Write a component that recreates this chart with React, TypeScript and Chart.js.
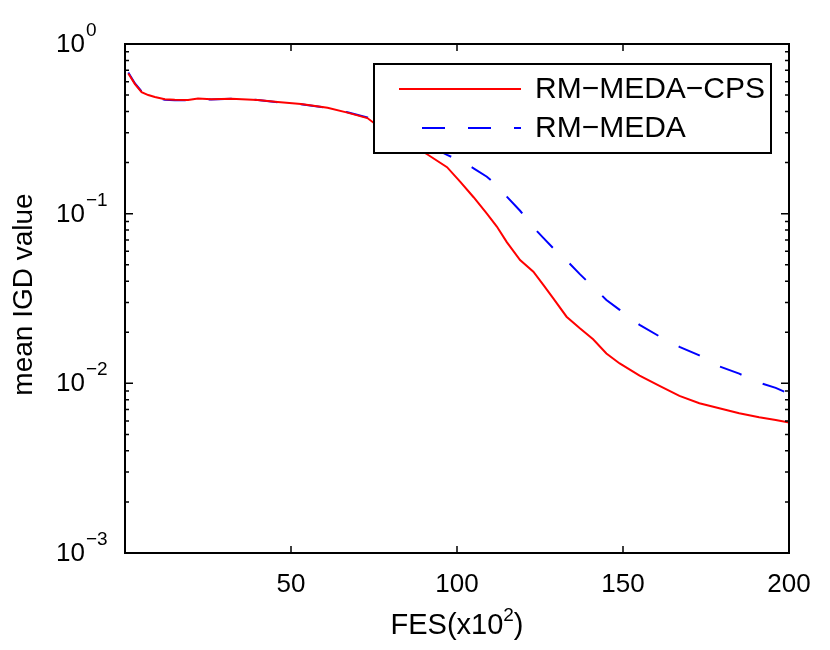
import { useEffect, useRef } from 'react';
import { Chart, registerables } from 'chart.js';

Chart.register(...registerables);

// FES (x10^2) sample points shared by both runs
const fes = [
  1, 3, 5, 7, 9, 12, 15, 19, 22, 26, 32, 40, 46, 53, 61, 67, 73, 77, 82, 87,
  91, 97, 101, 105, 109, 112, 115, 119, 123, 126, 129, 133, 137, 141, 145,
  149, 155, 161, 167, 173, 179, 185, 191, 196, 200,
];

// mean IGD, RM-MEDA-CPS (red, solid)
const igdCps = [
  0.67, 0.58, 0.52, 0.5, 0.487, 0.472, 0.469, 0.468, 0.478, 0.472, 0.476,
  0.468, 0.455, 0.443, 0.421, 0.394, 0.366, 0.32, 0.282, 0.248, 0.224, 0.188,
  0.154, 0.125, 0.1, 0.084, 0.068, 0.0533, 0.0455, 0.038, 0.0317, 0.0247,
  0.0211, 0.0182, 0.015, 0.0131, 0.0111, 0.00966, 0.00843, 0.00764, 0.00713,
  0.00667, 0.00631, 0.00608, 0.00587,
];

// mean IGD, RM-MEDA (blue, dashed)
const igdRm = [
  0.68, 0.585, 0.525, 0.5, 0.485, 0.47, 0.466, 0.466, 0.474, 0.471, 0.475,
  0.468, 0.454, 0.442, 0.42, 0.396, 0.369, 0.342, 0.307, 0.277, 0.254, 0.222,
  0.205, 0.185, 0.165, 0.147, 0.126, 0.104, 0.083, 0.072, 0.0625, 0.053,
  0.044, 0.037, 0.031, 0.0271, 0.0221, 0.0189, 0.0164, 0.0146, 0.0126, 0.0114,
  0.0101, 0.0094, 0.0087,
];

const xTicks = [50, 100, 150, 200];
const yExponents = [-3, -2, -1, 0];
const minorMantissas = [2, 3, 4, 5, 6, 7, 8, 9];

const FONT = '"Liberation Sans", Arial, Helvetica, sans-serif';
const MINUS = '\u2212';

const matlabAxes = {
  id: 'matlabAxes',
  afterDatasetsDraw(chart: Chart) {
    const { ctx, chartArea: a } = chart;
    const xs = chart.scales.x;
    const ys = chart.scales.y;
    ctx.save();

    // legend
    const lx = 374, ly = 64, lw = 397, lh = 89;
    ctx.fillStyle = '#ffffff';
    ctx.fillRect(lx, ly, lw, lh);
    ctx.strokeStyle = '#000000';
    ctx.lineWidth = 2;
    ctx.strokeRect(lx, ly, lw, lh);
    chart.data.datasets.forEach((ds: any, i: number) => {
      const yy = 89 + i * 39;
      ctx.strokeStyle = ds.borderColor;
      ctx.lineWidth = 2;
      ctx.setLineDash(ds.borderDash || []);
      ctx.lineDashOffset = ds.borderDash ? 23 : 0;
      ctx.beginPath();
      ctx.moveTo(399, yy);
      ctx.lineTo(521, yy);
      ctx.stroke();
      ctx.setLineDash([]);
      ctx.fillStyle = '#000000';
      ctx.font = `30px ${FONT}`;
      ctx.textAlign = 'left';
      ctx.textBaseline = 'middle';
      ctx.fillText(ds.label, 535, yy + 1);
    });

    // axes box
    ctx.strokeStyle = '#000000';
    ctx.lineWidth = 2;
    ctx.strokeRect(a.left, a.top, a.right - a.left, a.bottom - a.top);

    // x ticks (inward, top and bottom)
    ctx.lineWidth = 1.5;
    ctx.beginPath();
    xTicks.forEach((t) => {
      const px = xs.getPixelForValue(t);
      ctx.moveTo(px, a.bottom);
      ctx.lineTo(px, a.bottom - 7);
      ctx.moveTo(px, a.top);
      ctx.lineTo(px, a.top + 7);
    });
    // y ticks, major and minor, left and right
    yExponents.forEach((e) => {
      const py = ys.getPixelForValue(Math.pow(10, e));
      ctx.moveTo(a.left, py);
      ctx.lineTo(a.left + 8, py);
      ctx.moveTo(a.right, py);
      ctx.lineTo(a.right - 8, py);
      if (e < 0) {
        minorMantissas.forEach((m) => {
          const pm = ys.getPixelForValue(m * Math.pow(10, e));
          ctx.moveTo(a.left, pm);
          ctx.lineTo(a.left + 4, pm);
          ctx.moveTo(a.right, pm);
          ctx.lineTo(a.right - 4, pm);
        });
      }
    });
    ctx.stroke();

    ctx.fillStyle = '#000000';
    // x tick labels
    ctx.font = `26px ${FONT}`;
    ctx.textAlign = 'center';
    ctx.textBaseline = 'alphabetic';
    xTicks.forEach((t) => {
      ctx.fillText(String(t), xs.getPixelForValue(t), a.bottom + 39);
    });

    // y tick labels 10^e
    ctx.textAlign = 'left';
    yExponents.forEach((e) => {
      const py = ys.getPixelForValue(Math.pow(10, e));
      ctx.font = `26px ${FONT}`;
      ctx.fillText('10', 56, py + 8);
      const w = ctx.measureText('10').width;
      ctx.font = `19px ${FONT}`;
      ctx.fillText(e < 0 ? MINUS + String(-e) : String(e), 56 + w + 1, py - 8);
    });

    // x title FES(x10^2)
    const cx = (a.left + a.right) / 2;
    ctx.font = `29px ${FONT}`;
    const p1 = 'FES(x10';
    const w1 = ctx.measureText(p1).width;
    const w3 = ctx.measureText(')').width;
    ctx.font = `19px ${FONT}`;
    const w2 = ctx.measureText('2').width;
    let sx = cx - (w1 + w2 + w3) / 2;
    const by = a.bottom + 81;
    ctx.font = `29px ${FONT}`;
    ctx.fillText(p1, sx, by);
    sx += w1;
    ctx.font = `19px ${FONT}`;
    ctx.fillText('2', sx, by - 13);
    sx += w2;
    ctx.font = `29px ${FONT}`;
    ctx.fillText(')', sx, by);

    // y title
    ctx.translate(24, (a.top + a.bottom) / 2 - 4);
    ctx.rotate(-Math.PI / 2);
    ctx.textAlign = 'center';
    ctx.textBaseline = 'middle';
    ctx.font = `28px ${FONT}`;
    ctx.fillText('mean IGD value', 0, 0);

    ctx.restore();
  },
};

export default function App() {
  const canvasRef = useRef<HTMLCanvasElement>(null);
  const chartRef = useRef<Chart | null>(null);

  useEffect(() => {
    if (!canvasRef.current) return;
    if (chartRef.current) chartRef.current.destroy();

    chartRef.current = new Chart(canvasRef.current, {
      type: 'line',
      data: {
        datasets: [
          {
            label: 'RM' + MINUS + 'MEDA' + MINUS + 'CPS',
            data: fes.map((x, i) => ({ x, y: igdCps[i] })),
            borderColor: '#ff0000',
            borderWidth: 2,
            pointRadius: 0,
            tension: 0,
          },
          {
            label: 'RM' + MINUS + 'MEDA',
            data: fes.map((x, i) => ({ x, y: igdRm[i] })),
            borderColor: '#0000ff',
            borderWidth: 2,
            borderDash: [23, 23],
            pointRadius: 0,
            tension: 0,
          },
        ],
      },
      options: {
        animation: false,
        responsive: false,
        layout: { padding: { left: 125, right: 41, top: 44, bottom: 97 } },
        plugins: {
          legend: { display: false },
          tooltip: { enabled: false },
        },
        scales: {
          x: { type: 'linear', min: 0, max: 200, display: false },
          y: { type: 'logarithmic', min: 0.001, max: 1, display: false },
        },
      },
      plugins: [matlabAxes],
    });

    return () => {
      if (chartRef.current) {
        chartRef.current.destroy();
        chartRef.current = null;
      }
    };
  }, []);

  return (
    <div style={{ position: 'fixed', left: 0, top: 0, width: 830, height: 650, background: '#fff' }}>
      <canvas ref={canvasRef} width={830} height={650} />
    </div>
  );
}
